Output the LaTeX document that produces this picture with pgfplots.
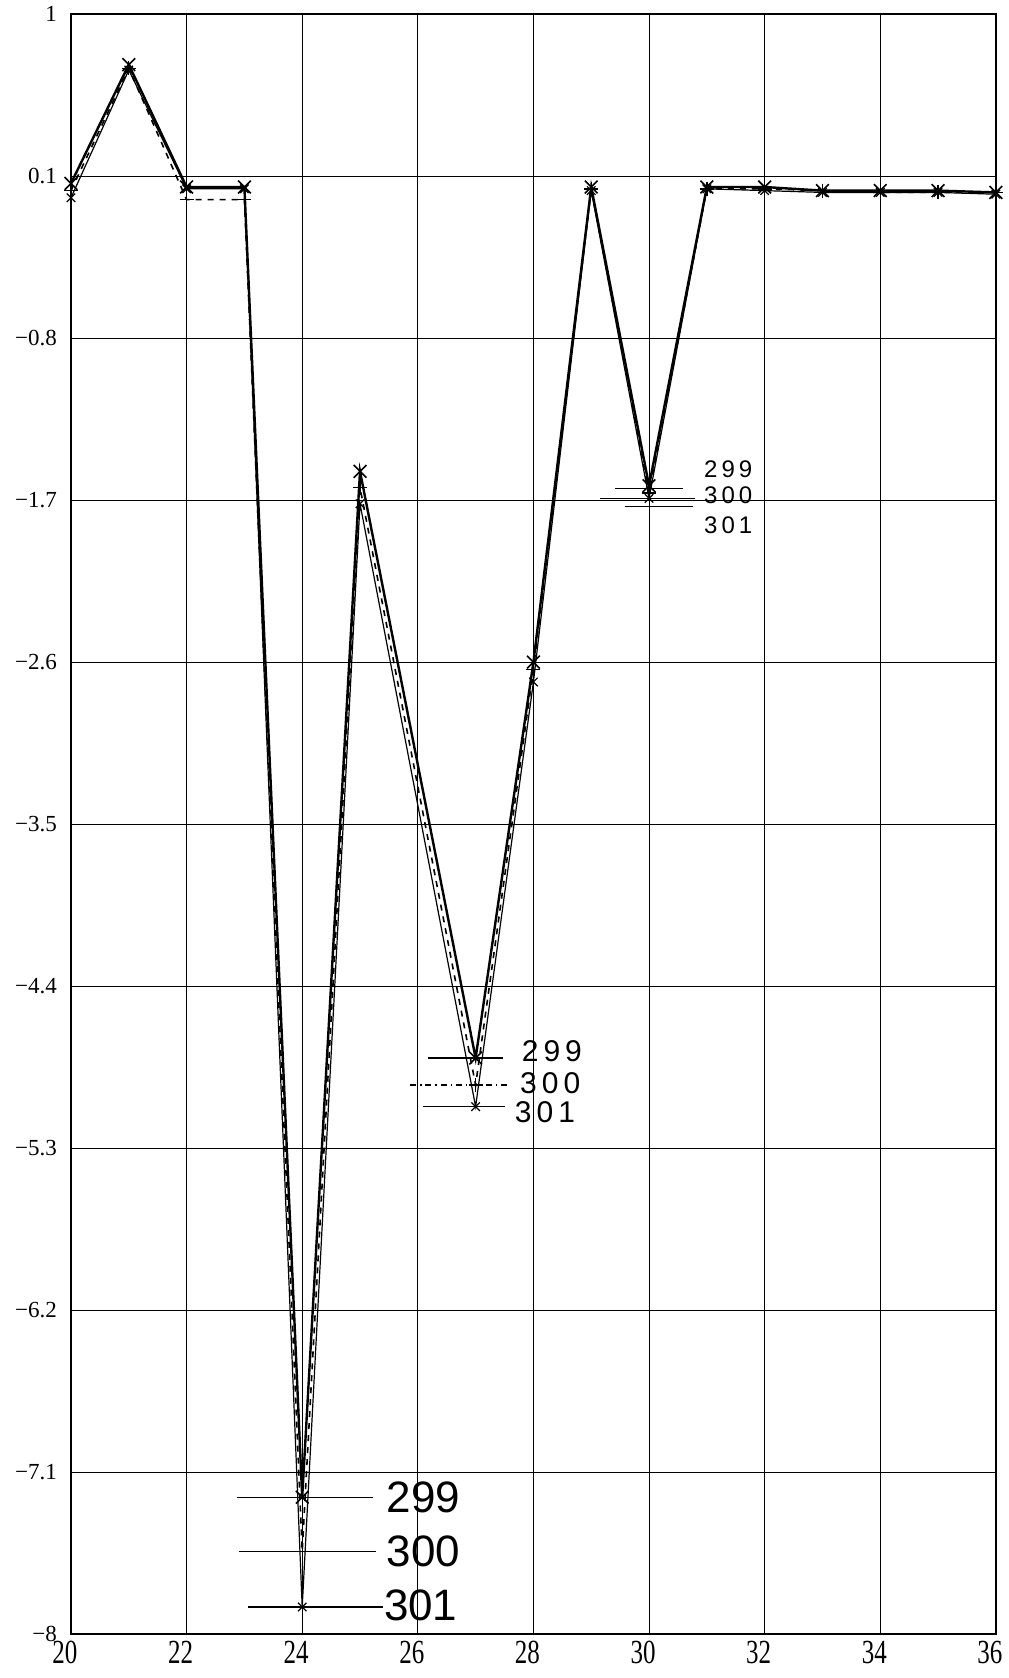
\documentclass[border=0pt]{standalone}
\usepackage{pgfplots}
\pgfplotsset{compat=1.18}
\usepackage{graphicx}
\usepackage{fontspec}
\setmainfont{Liberation Serif}
\newfontfamily\hand{Liberation Sans}

\begin{document}
\begin{tikzpicture}
\begin{axis}[
  scale only axis, width=462.5pt, height=810pt,
  xmin=20, xmax=36, ymin=-8, ymax=1,
  xtick={20,22,...,36},
  xticklabels={\scalebox{1}[1.35]{20},\scalebox{1}[1.35]{22},\scalebox{1}[1.35]{24},\scalebox{1}[1.35]{26},\scalebox{1}[1.35]{28},\scalebox{1}[1.35]{30},\scalebox{1}[1.35]{32},\scalebox{1}[1.35]{34},\scalebox{1}[1.35]{36}},
  ytick={-8,-7.1,-6.2,-5.3,-4.4,-3.5,-2.6,-1.7,-0.8,0.1,1},
  yticklabels={−8,−7.1,−6.2,−5.3,−4.4,−3.5,−2.6,−1.7,−0.8,0.1,1},
  grid=major,
  major grid style={black, line width=0.5pt},
  axis line style={black, line width=0.9pt},
  major tick length=0pt,
  tick style={draw=none},
  xticklabel style={font=\fontsize{12.5}{14}\selectfont, inner sep=0pt, anchor=north, yshift=-3.5pt, xshift=-3pt},
  yticklabel style={font=\fontsize{11.5}{14}\selectfont, xshift=-3.5pt},
  clip=false,
]
% series 299
\addplot[black, line width=1.2pt, mark=x, mark size=4.5pt, mark options={solid, line width=0.8pt}] coordinates {
(20,0.06) (21,0.72) (22,0.04) (23,0.04) (24,-7.24) (25,-1.54) (27,-4.80) (28,-2.60)
(29,0.04) (30,-1.62) (31,0.04) (32,0.04) (33,0.02) (34,0.02) (35,0.02) (36,0.01)};
% series 300
\addplot[black, line width=0.8pt, dashed, mark=+, mark size=3.5pt, mark options={solid, line width=0.7pt}] coordinates {
(20,0.02) (21,0.70) (22,-0.03) (23,-0.03) (24,-7.54) (25,-1.63) (27,-4.95) (28,-2.64)
(29,0.03) (30,-1.66) (31,0.03) (32,0.03) (33,0.02) (34,0.01) (35,0.01) (36,0.01)};
% series 301
\addplot[black, line width=0.6pt, mark=x, mark size=3pt, mark options={solid, line width=0.6pt}] coordinates {
(20,-0.02) (21,0.69) (22,0.03) (23,0.03) (24,-7.85) (25,-1.72) (27,-5.07) (28,-2.71)
(29,0.02) (30,-1.69) (31,0.03) (32,0.02) (33,0.01) (34,0.01) (35,0.01) (36,0.00)};

% annotation leader lines at 24
\addplot[black, line width=0.7pt, no marks] coordinates {(22.87,-7.24) (25.22,-7.24)};
\addplot[black, line width=0.7pt, no marks] coordinates {(22.90,-7.54) (25.28,-7.54)};
\addplot[black, line width=0.7pt, no marks] coordinates {(23.06,-7.85) (25.40,-7.85)};
% annotation leader lines at 27
\addplot[black, line width=0.6pt, no marks] coordinates {(26.18,-4.80) (27.47,-4.80)};
\addplot[black, line width=0.6pt, no marks, dash dot] coordinates {(25.87,-4.95) (27.60,-4.95)};
\addplot[black, line width=0.6pt, no marks] coordinates {(26.09,-5.07) (27.50,-5.07)};
% annotation leader lines at 30
\addplot[black, line width=0.6pt, no marks] coordinates {(29.41,-1.633) (30.59,-1.633)};
\addplot[black, line width=0.6pt, no marks] coordinates {(29.15,-1.69) (30.80,-1.69)};
\addplot[black, line width=0.6pt, no marks] coordinates {(29.58,-1.733) (30.76,-1.733)};

\node[font=\hand\fontsize{22}{24}\selectfont, inner sep=0pt] at (axis cs:26.1,-7.24) {299};
\node[font=\hand\fontsize{22}{24}\selectfont, inner sep=0pt] at (axis cs:26.1,-7.54) {300};
\node[font=\hand\fontsize{22}{24}\selectfont, inner sep=0pt] at (axis cs:26.05,-7.84) {301};
\node[font=\hand\fontsize{15}{17}\selectfont, inner sep=0pt] at (axis cs:28.32,-4.76) {2\,9\,9};
\node[font=\hand\fontsize{15}{17}\selectfont, inner sep=0pt] at (axis cs:28.29,-4.94) {3\,0\,0};
\node[font=\hand\fontsize{15}{17}\selectfont, inner sep=0pt] at (axis cs:28.2,-5.10) {3\,0\,1};
\node[font=\hand\fontsize{12}{14}\selectfont, inner sep=0pt] at (axis cs:31.37,-1.53) {2\,9\,9};
\node[font=\hand\fontsize{12}{14}\selectfont, inner sep=0pt] at (axis cs:31.37,-1.67) {3\,0\,0};
\node[font=\hand\fontsize{12}{14}\selectfont, inner sep=0pt] at (axis cs:31.37,-1.84) {3\,0\,1};
\end{axis}
\path ([shift={(-35.5pt,-22pt)}]current axis.south west) rectangle ([shift={(6.5pt,7pt)}]current axis.north east);
\end{tikzpicture}
\end{document}
